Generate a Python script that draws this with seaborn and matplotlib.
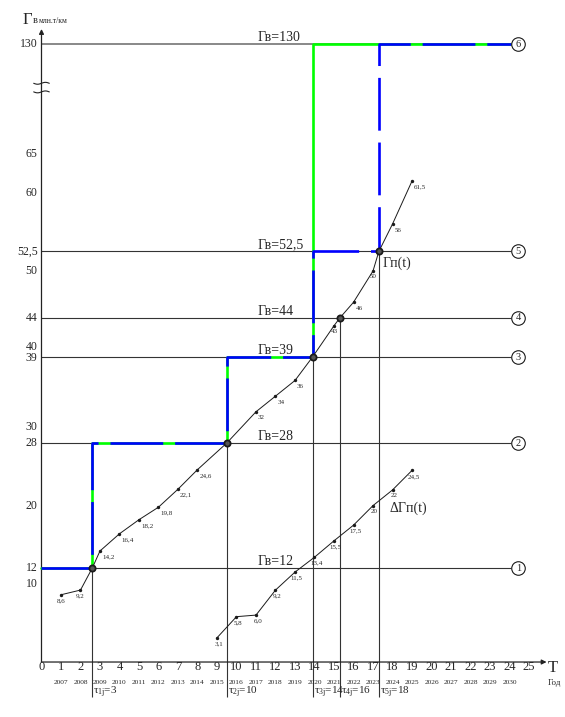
import numpy as np
import pandas as pd
import matplotlib
matplotlib.use("Agg")
import matplotlib.pyplot as plt
import seaborn as sns

# кривая Гп(t)
gp_t = [1, 2, 3, 4, 5, 6, 7, 8, 11, 12, 13, 15, 16, 17, 18, 19]
gp_val = [8.6, 9.2, 14.2, 16.4, 18.2, 19.8, 22.1, 24.6, 32, 34, 36, 43, 46, 50, 56, 61.5]
gp_txt = ["8,6", "9,2", "14,2", "16,4", "18,2", "19,8", "22,1", "24,6",
          "32", "34", "36", "43", "46", "50", "56", "61,5"]
gp_ha = ["center", "center"] + ["left"] * 9 + ["center", "left", "center", "left", "left"]

# кривая ΔГп(t)
dgp_t = [9, 10, 11, 12, 13, 14, 15, 16, 17, 18, 19]
dgp_val = [3.1, 5.8, 6.0, 9.2, 11.5, 13.4, 15.5, 17.5, 20, 22, 24.5]
dgp_txt = ["3,1", "5,8", "6,0", "9,2", "11,5", "13,4", "15,5", "17,5", "20", "22", "24,5"]

# уровни Гв
levels = [12, 28, 39, 44, 52.5, 130]
level_txt = ["12", "28", "39", "44", "52,5", "130"]
level_num = ["1", "2", "3", "4", "5", "6"]

# моменты перехода τ
tau_t = [2.6, 9.5, 13.9, 15.3, 17.3]
tau_val = [12, 28, 39, 44, 52.5]
tau_txt = ["3", "10", "14", "16", "18"]

# ступенчатые графики
green_t = [0, 2.6, 9.5, 13.9, 24.1]
green_val = [12, 28, 39, 130, 130]
blue_t = [0, 2.6, 9.5, 13.9, 17.3, 24.1]
blue_val = [12, 28, 39, 52.5, 130, 130]

ytick_val = [10, 12, 20, 28, 30, 39, 40, 44, 50, 52.5, 60, 65, 130]
ytick_txt = ["10", "12", "20", "28", "30", "39", "40", "44", "50", "52,5", "60", "65", "130"]
ytick_dy = [0, 0, 0, 0, 0, -1, 1.8, 0, 0, 0, 0, 0, 0]
xtick_val = list(range(26))
years = list(range(2007, 2031))


# разрыв оси: всё, что выше 65, сжато
def fwd(v):
    v = np.asarray(v, dtype=float)
    return np.where(v <= 65, v, 65 + (v - 65) * 14 / 65)


def inv(d):
    d = np.asarray(d, dtype=float)
    return np.where(d <= 65, d, 65 + (d - 65) * 65 / 14)


sns.set_theme(style="white")
plt.rcParams['font.family'] = ['Liberation Serif', 'DejaVu Serif']
plt.rcParams['mathtext.default'] = 'regular'

fig = plt.figure(figsize=(5.65, 7.17), dpi=100)
ax = fig.add_axes([0, 0, 1, 1])
ax.set_yscale('function', functions=(fwd, inv))
ax.set_xlim(-2.128, 26.846)
ax.set_ylim(-7.03, float(inv(84.65)))
ax.axis('off')

# оси со стрелками
arrow = dict(arrowstyle='-|>', color='#222', lw=0.9, mutation_scale=7, shrinkA=0, shrinkB=0)
ax.annotate('', xy=(25.9, 0), xytext=(0, 0), arrowprops=arrow)
ax.annotate('', xy=(0, 139), xytext=(0, 0), arrowprops=arrow)

# значки разрыва оси
wx = np.linspace(-0.4, 0.4, 30)
for yb in [74.0, 72.9]:
    ax.plot(wx, inv(yb + 0.12 * np.sin(wx / 0.4 * np.pi)), color='#222', lw=0.8)

# горизонтальные уровни и вертикали τ
ax.hlines(levels[:-1], 0, 24.1, colors='#333', lw=0.8, zorder=1)
ax.hlines(levels[-1], 0, 24.1, colors='#888', lw=1.4, zorder=1)
ax.vlines(tau_t, -4.5, tau_val, colors='#333', lw=0.8, zorder=1)

# ступенчатые графики
sns.lineplot(x=green_t, y=green_val, drawstyle='steps-post', color='#00ff00',
             lw=1.9, ax=ax, zorder=3)
sns.lineplot(x=blue_t, y=blue_val, drawstyle='steps-post', color='#0000ff',
             lw=1.9, linestyle=(0, (20, 4.5)), ax=ax, zorder=4)

# Гп(t)
gp_df = pd.DataFrame({'t': gp_t + tau_t, 'val': gp_val + tau_val}).sort_values('t')
sns.lineplot(data=gp_df, x='t', y='val', color='k', lw=0.7, ax=ax, zorder=5)
sns.scatterplot(x=gp_t, y=gp_val, color='k', s=6, linewidth=0, ax=ax, zorder=6)
for t, v, s, h in zip(gp_t, gp_val, gp_txt, gp_ha):
    ax.annotate(s, (t, v), xytext=(1.5 if h == 'left' else 0, -2.5),
                textcoords='offset points', ha=h, va='top', fontsize=5)

# ΔГп(t)
sns.lineplot(x=dgp_t, y=dgp_val, color='k', lw=0.7, ax=ax, zorder=5)
sns.scatterplot(x=dgp_t, y=dgp_val, color='k', s=6, linewidth=0, ax=ax, zorder=6)
for t, v, s in zip(dgp_t, dgp_val, dgp_txt):
    ax.annotate(s, (t, v), xytext=(1.2, -2.5), textcoords='offset points',
                ha='center', va='top', fontsize=5)

# точки пересечения
sns.scatterplot(x=tau_t, y=tau_val, s=20, color='#555', edgecolor='k',
                linewidth=1.3, ax=ax, zorder=7)

# номера уровней
sns.scatterplot(x=[24.45] * len(levels), y=levels, s=95, color='white',
                edgecolor='k', linewidth=0.8, ax=ax, zorder=6)
for lv, n, s in zip(levels, level_num, level_txt):
    ax.text(24.45, lv, n, ha='center', va='center', fontsize=7.5, zorder=8)
    ax.annotate(f"Гв={s}", (11.1, lv), xytext=(0, 2), textcoords='offset points',
                ha='left', va='baseline', fontsize=10)

ax.text(17.5, 51.0, "Гп(t)", ha='left', va='center', fontsize=10)
ax.text(17.87, 19.6, "ΔГп(t)", ha='left', va='center', fontsize=10)

# подписи осей
for v, s, dy in zip(ytick_val, ytick_txt, ytick_dy):
    ax.annotate(s, (-0.2, v), xytext=(0, dy), textcoords='offset points',
                ha='right', va='center', fontsize=8.5)
for v in xtick_val:
    ax.text(v, -0.7, str(v), ha='center', va='center', fontsize=9)
for i, yr in enumerate(years):
    ax.text(i + 1, -2.6, str(yr), ha='center', va='center', fontsize=5.3)
for i, (t, s) in enumerate(zip(tau_t, tau_txt)):
    ax.text(t + 0.06, -3.9, f"τ$_{{{i + 1}j}}$={s}", ha='left', va='center', fontsize=8)

ax.text(-0.95, 144.1, "Г", ha='left', va='center', fontsize=12)
ax.text(-0.44, 142.4, "в", ha='left', va='baseline', fontsize=7.5)
ax.text(-0.13, 142.4, "млн.т/км", ha='left', va='baseline', fontsize=5.5)
ax.text(26.2, -0.75, "T", ha='center', va='center', fontsize=12)
ax.text(26.3, -2.7, "Год", ha='center', va='center', fontsize=6.5)

plt.savefig('out.png', dpi=100)
